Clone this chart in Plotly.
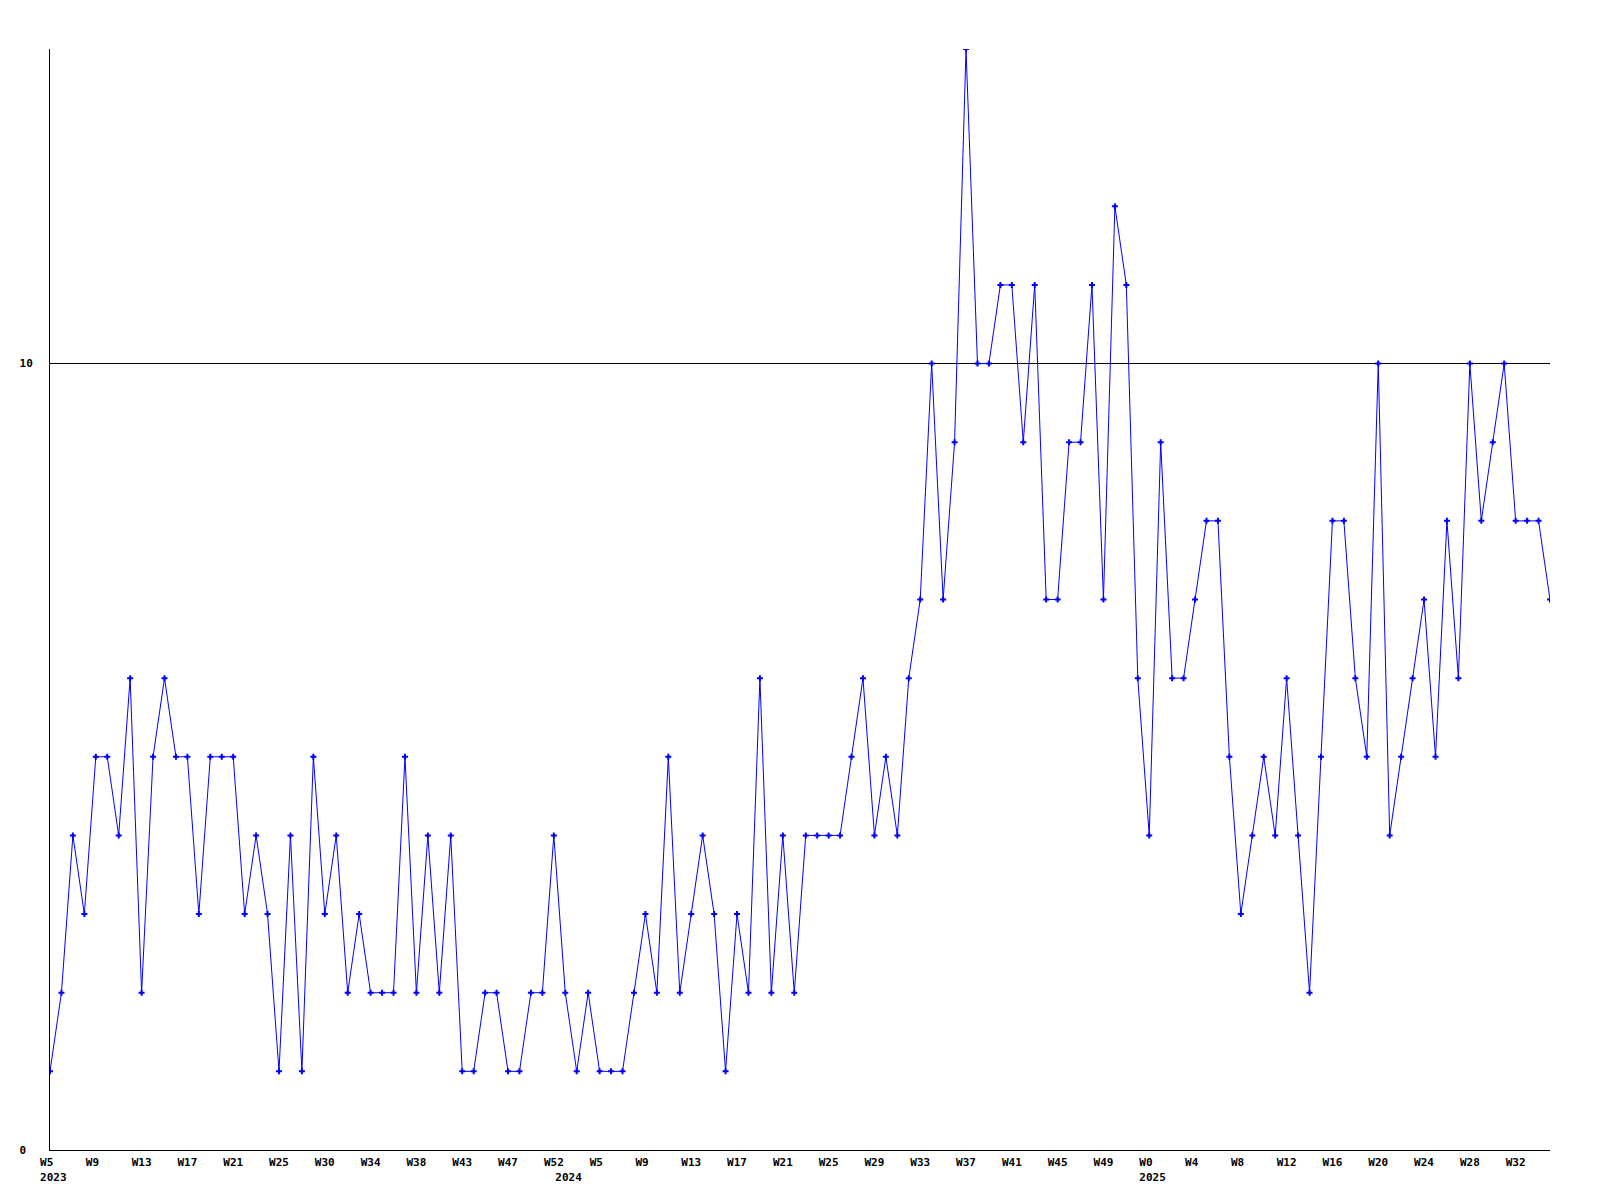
import plotly.graph_objects as go

# Weekly values (one per week, starting 2023 W5)
values = [
    1, 2, 4, 3, 5, 5, 4, 6, 2, 5,
    6, 5, 5, 3, 5, 5, 5, 3, 4, 3,
    1, 4, 1, 5, 3, 4, 2, 3, 2, 2,
    2, 5, 2, 4, 2, 4, 1, 1, 2, 2,
    1, 1, 2, 2, 4, 2, 1, 2, 1, 1,
    1, 2, 3, 2, 5, 2, 3, 4, 3, 1,
    3, 2, 6, 2, 4, 2, 4, 4, 4, 4,
    5, 6, 4, 5, 4, 6, 7, 10, 7, 9,
    14, 10, 10, 11, 11, 9, 11, 7, 7, 9,
    9, 11, 7, 12, 11, 6, 4, 9, 6, 6,
    7, 8, 8, 5, 3, 4, 5, 4, 6, 4,
    2, 5, 8, 8, 6, 5, 10, 4, 5, 6,
    7, 5, 8, 6, 10, 8, 9, 10, 8, 8,
    8, 7,
]

# Week tick labels, one every 4 weeks
tick_weeks = ["W5", "W9", "W13", "W17", "W21", "W25", "W30", "W34", "W38",
              "W43", "W47", "W52", "W5", "W9", "W13", "W17", "W21", "W25",
              "W29", "W33", "W37", "W41", "W45", "W49", "W0", "W4", "W8",
              "W12", "W16", "W20", "W24", "W28", "W32"]
tick_step = 4

# Year labels and the week index at which each year starts
years = ["2023", "2024", "2025"]
year_index = [0, 45, 96]

y_tick_values = [0, 10]
y_tick_labels = ["0", "10"]

NB = "\u00a0"
x = list(range(len(values)))

labels = {}
for k, w in enumerate(tick_weeks):
    labels[k * tick_step] = w + NB * max(0, 3 - len(w))
for yi, yr in zip(year_index, years):
    top = labels.get(yi, NB)
    labels[yi] = top + "<br>" + NB + yr
tickvals = sorted(labels)
ticktext = [labels[v] for v in tickvals]

ytext = [t + NB * (2 - len(t)) for t in y_tick_labels]

fig = go.Figure()
fig.add_trace(go.Scatter(
    x=x, y=values, mode="lines+markers",
    line=dict(color="#0000ff", width=1),
    marker=dict(symbol="cross", size=5, color="#0000ff", line=dict(width=0)),
    showlegend=False,
))

font = dict(family="DejaVu Sans Mono", size=11, color="black", weight="bold")

fig.update_layout(
    width=1600, height=1200,
    margin=dict(l=42, r=58, t=41, b=58, pad=0),
    paper_bgcolor="white", plot_bgcolor="white",
    font=font,
    xaxis=dict(
        range=[0, len(values) - 1],
        tickmode="array", tickvals=tickvals, ticktext=ticktext,
        tickangle=0, ticks="", showgrid=False, zeroline=False,
        showline=True, linecolor="black", linewidth=1,
        tickfont=font, ticklabelstandoff=2,
    ),
    yaxis=dict(
        range=[0, 14],
        tickmode="array", tickvals=y_tick_values, ticktext=ytext,
        ticks="", showgrid=True, gridcolor="black", gridwidth=1,
        zeroline=False, showline=True, linecolor="black", linewidth=1,
        tickfont=font, ticklabelstandoff=14,
    ),
)

fig.write_html("out.html")
